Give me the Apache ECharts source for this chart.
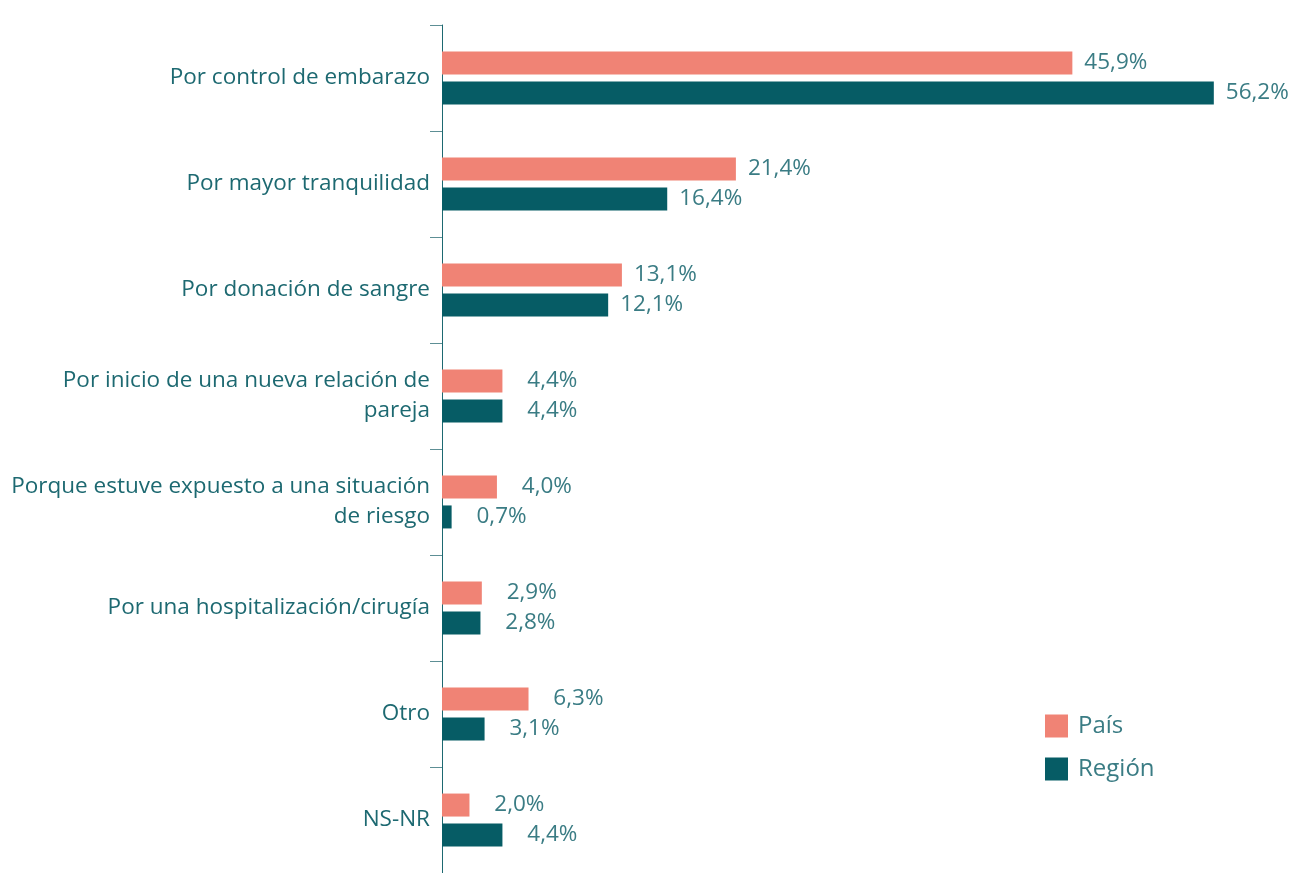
<!DOCTYPE html>
<html>
<head>
<meta charset="utf-8">
<script src="https://cdn.jsdelivr.net/npm/echarts@6/dist/echarts.min.js"></script>
<style>
  html, body { margin: 0; padding: 0; background: #ffffff; }
  #chart { width: 1293px; height: 873px; }
</style>
</head>
<body>
<div id="chart"></div>
<script>
// Motivos para hacerse la prueba: País vs Región (%)
const categories = [
  'Por control de embarazo',
  'Por mayor tranquilidad',
  'Por donación de sangre',
  'Por inicio de una nueva relación de\npareja',
  'Porque estuve expuesto a una situación\nde riesgo',
  'Por una hospitalización/cirugía',
  'Otro',
  'NS-NR'
];
const paisValues = [45.9, 21.4, 13.1, 4.4, 4.0, 2.9, 6.3, 2.0];
const regionValues = [56.2, 16.4, 12.1, 4.4, 0.7, 2.8, 3.1, 4.4];
const seriesNames = ['País', 'Región'];

const FONT = '"Open Sans", "Noto Sans", sans-serif';
const PINK = '#f08375';
const TEAL = '#065c65';
const LABEL_TEXT = '#1d6971';
const VALUE_TEXT = '#3a7c84';

const fmt = v => v.toFixed(1).replace('.', ',') + '%';

// value labels are right-aligned a fixed distance past the bar end
const valueLabel = {
  show: true,
  position: 'right',
  distance: 75,
  align: 'right',
  color: VALUE_TEXT,
  fontFamily: FONT,
  fontSize: 22.5,
  formatter: p => fmt(p.value)
};

const chart = echarts.init(document.getElementById('chart'), null, { renderer: 'canvas' });
chart.setOption({
  animation: false,
  backgroundColor: '#ffffff',
  grid: { left: 442, width: 824, top: 25, bottom: -8, containLabel: false },
  legend: {
    orient: 'vertical',
    left: 1045,
    top: 714,
    padding: 0,
    itemWidth: 23,
    itemHeight: 23,
    itemGap: 19,
    icon: 'rect',
    textStyle: { color: VALUE_TEXT, fontFamily: FONT, fontSize: 24, padding: [0, 0, 0, 5] },
    data: seriesNames
  },
  xAxis: {
    type: 'value',
    min: 0,
    max: 60,
    show: false
  },
  yAxis: {
    type: 'category',
    inverse: true,
    data: categories,
    axisLine: { show: true, lineStyle: { color: '#1d6971', width: 1 } },
    axisTick: { show: true, length: 12, lineStyle: { color: '#5d8f95', width: 1 } },
    axisLabel: {
      margin: 12,
      color: LABEL_TEXT,
      fontFamily: FONT,
      fontSize: 22.5,
      lineHeight: 30,
      align: 'right'
    },
    splitLine: { show: false }
  },
  series: [
    {
      name: seriesNames[0],
      type: 'bar',
      data: paisValues,
      barWidth: 23,
      barGap: '30%',
      itemStyle: { color: PINK },
      label: valueLabel
    },
    {
      name: seriesNames[1],
      type: 'bar',
      data: regionValues,
      barWidth: 23,
      barGap: '30%',
      itemStyle: { color: TEAL },
      label: valueLabel
    }
  ]
});
</script>
</body>
</html>
